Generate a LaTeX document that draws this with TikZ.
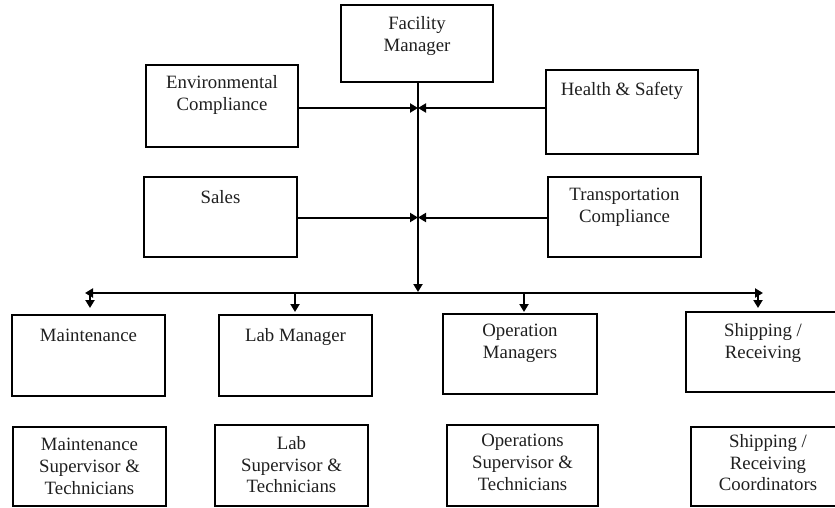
\documentclass[tikz,border=0pt]{standalone}
\usepackage{fontspec}
\setmainfont{Liberation Serif}
\usetikzlibrary{arrows.meta}

\begin{document}
\begin{tikzpicture}[x=1pt,y=-1pt,
  box/.style={draw=black, line width=2pt, rectangle, inner sep=0pt},
  txt/.style={anchor=north, inner sep=0pt, align=center, text=black!88,
    font=\fontsize{18.8}{21.8}\selectfont, execute at begin node=\strut},
  link/.style={line width=2pt},
  tip/.style={line width=2pt, -{Triangle[length=8pt,width=9pt]}},
  bus/.style={line width=2pt, {Triangle[length=8pt,width=9pt]}-{Triangle[length=8pt,width=9pt]}}]

\useasboundingbox (0,0) rectangle (835,508);

% top management boxes
\node[box, minimum width=152pt, minimum height=77pt] (fm)    at (417,43.5)  {};
\node[box, minimum width=152pt, minimum height=82pt] (env)   at (222,106)   {};
\node[box, minimum width=152pt, minimum height=84pt] (hs)    at (622,112)   {};
\node[box, minimum width=153pt, minimum height=80pt] (sales) at (220.5,217) {};
\node[box, minimum width=153pt, minimum height=80pt] (trans) at (624.5,217) {};

% department boxes
\node[box, minimum width=153pt, minimum height=81pt] (maint) at (88.5,355.5)  {};
\node[box, minimum width=153pt, minimum height=81pt] (lab)   at (295.5,355.5) {};
\node[box, minimum width=154pt, minimum height=80pt] (ops)   at (520,354)     {};
\node[box, minimum width=154pt, minimum height=80pt] (ship)  at (763,352)     {};

% staff boxes
\node[box, minimum width=153pt, minimum height=79pt] (msup)   at (89.5,466.5)  {};
\node[box, minimum width=153pt, minimum height=81pt] (lsup)   at (291.5,465.5) {};
\node[box, minimum width=151pt, minimum height=81pt] (osup)   at (522.5,465.5) {};
\node[box, minimum width=154pt, minimum height=79pt] (scoord) at (768,466.5)   {};

% box titles
\node[txt] (fm-t)     at ([yshift=-12pt]fm.north)    {Facility\\Manager};
\node[txt] (env-t)    at ([yshift=-11pt]env.north)   {Environmental\\Compliance};
\node[txt] (hs-t)     at ([yshift=-11pt]hs.north)    {Health \& Safety};
\node[txt] (sales-t)  at ([yshift=-12pt]sales.north) {Sales};
\node[txt] (trans-t)  at ([yshift=-12pt]trans.north) {Transportation\\Compliance};
\node[txt] (maint-t)  at ([yshift=-12pt]maint.north) {Maintenance};
\node[txt] (lab-t)    at ([yshift=-12pt]lab.north)   {Lab Manager};
\node[txt] (ops-t)    at ([yshift=-11pt]ops.north)   {Operation\\Managers};
\node[txt] (ship-t)   at ([yshift=-12pt]ship.north)  {Shipping /\\Receiving};
\node[txt] (msup-t)   at ([yshift=-12pt]msup.north)  {Maintenance\\Supervisor \&\\Technicians};
\node[txt] (lsup-t)   at ([yshift=-12pt]lsup.north)  {Lab\\Supervisor \&\\Technicians};
\node[txt] (osup-t)   at ([yshift=-10pt]osup.north)  {Operations\\Supervisor \&\\Technicians};
\node[txt] (scoord-t) at ([yshift=-8pt]scoord.north) {Shipping /\\Receiving\\Coordinators};

% junctions on the main line
\coordinate (j1) at (418,108);
\coordinate (j2) at (418,217.5);
\coordinate (j3) at (418,292);
\coordinate (bl) at (85,293);
\coordinate (br) at (763,293);
\coordinate (b1) at (90,293);
\coordinate (b2) at (295,293);
\coordinate (b3) at (524,293);
\coordinate (b4) at (758,293);

% main vertical line and side reports
\draw[tip] (fm.south -| j1) -- (j3);
\draw[tip] (env.east |- j1) -- (j1);
\draw[tip] (hs.west |- j1) -- (j1);
\draw[tip] (sales.east |- j2) -- (j2);
\draw[tip] (trans.west |- j2) -- (j2);

% distribution bus and department arrows
\draw[bus] (bl) -- (br);
\draw[tip] (b1) -- ([yshift=6pt]maint.north -| b1);
\draw[tip] (b2) -- ([yshift=2pt]lab.north -| b2);
\draw[tip] (b3) -- ([yshift=1pt]ops.north -| b3);
\draw[tip] (b4) -- ([yshift=3pt]ship.north -| b4);

\end{tikzpicture}
\end{document}
